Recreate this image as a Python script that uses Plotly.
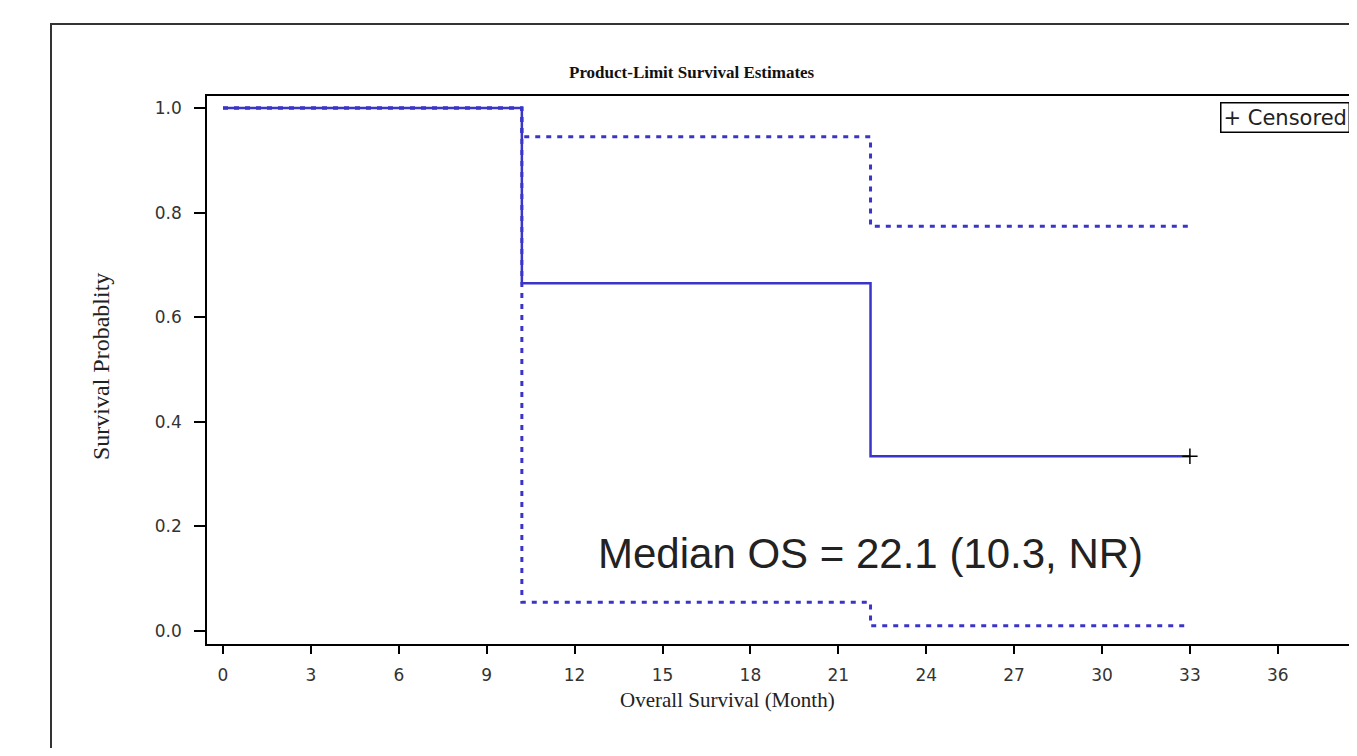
import plotly.graph_objects as go

# Data
times = [0, 10.2, 22.1, 33]
surv = [1.0, 0.665, 0.334, 0.334]
upper_ci = [1.0, 0.945, 0.774, 0.774]
lower_ci = [1.0, 0.055, 0.010, 0.010]
censor_times = [33]
censor_surv = [0.334]
x_ticks = [0, 3, 6, 9, 12, 15, 18, 21, 24, 27, 30, 33, 36, 39]
y_ticks = [0.0, 0.2, 0.4, 0.6, 0.8, 1.0]

BLUE = "#3a35c8"

# page layout helpers (page has 8px body margin)
PL, PR, PT, PB = 207, 1349, 96, 644
PW, PH = PR - PL, PB - PT


def px(xp):
    return (xp - PL) / PW


def py(yp):
    return (PB - yp) / PH


fig = go.Figure()
fig.add_trace(go.Scatter(x=times, y=upper_ci, mode="lines", line_shape="hv",
                         line=dict(color=BLUE, width=3, dash="5px,6px"), showlegend=False))
fig.add_trace(go.Scatter(x=times, y=lower_ci, mode="lines", line_shape="hv",
                         line=dict(color=BLUE, width=3, dash="5px,6px"), showlegend=False))
fig.add_trace(go.Scatter(x=times, y=surv, mode="lines", line_shape="hv",
                         line=dict(color=BLUE, width=2.5), showlegend=False))
fig.add_trace(go.Scatter(x=censor_times, y=censor_surv, mode="markers",
                         marker=dict(symbol="cross-thin", size=11,
                                     line=dict(color="black", width=1.5)),
                         showlegend=False))

axis_font = dict(family="DejaVu Sans, Arial", size=17, color="#333333")
fig.update_xaxes(range=[-0.546, 38.43], tickvals=x_ticks, ticktext=[str(v) for v in x_ticks],
                 showgrid=False, zeroline=False, showline=True, linecolor="black",
                 linewidth=1.5, mirror=True, ticks="outside", ticklen=8,
                 tickcolor="black", tickwidth=1.5, tickfont=axis_font,
                 ticklabelstandoff=7)
fig.update_yaxes(range=[-0.0249, 1.0229], tickvals=y_ticks,
                 ticktext=[f"{v:.1f}" for v in y_ticks],
                 showgrid=False, zeroline=False, showline=True, linecolor="black",
                 linewidth=1.5, mirror=False, ticks="outside", ticklen=11,
                 tickcolor="black", tickwidth=1.5, tickfont=axis_font,
                 ticklabelstandoff=9)

# outer frame
fig.add_shape(type="rect", xref="paper", yref="paper", x0=px(51), x1=1.2,
              y0=-0.4, y1=py(24), line=dict(color="#333333", width=2), layer="below")

# title
fig.add_annotation(xref="paper", yref="paper", x=px(692), y=py(73),
                   text="<b>Product-Limit Survival Estimates</b>", showarrow=False,
                   xanchor="center", yanchor="middle",
                   font=dict(family="Liberation Serif, Times New Roman", size=17, color="#111111"))

# axis titles
fig.add_annotation(xref="paper", yref="paper", x=px(727), y=py(700),
                   text="Overall Survival (Month)", showarrow=False,
                   xanchor="center", yanchor="middle",
                   font=dict(family="Liberation Serif, Times New Roman", size=21, color="#222222"))
fig.add_annotation(xref="paper", yref="paper", x=px(101), y=py(367),
                   text="Survival Probablity", showarrow=False, textangle=-90,
                   xanchor="center", yanchor="middle",
                   font=dict(family="Liberation Serif, Times New Roman", size=24, color="#222222"))

# censored legend box
fig.add_annotation(xref="paper", yref="paper", x=px(1220), y=py(117),
                   text="+ Censored", showarrow=False, xanchor="left", yanchor="middle",
                   font=dict(family="DejaVu Sans, Arial", size=21, color="#222222"),
                   bordercolor="black", borderwidth=1.5, borderpad=2, bgcolor="white")

# median annotation
fig.add_annotation(xref="paper", yref="paper", x=px(596), y=py(553),
                   text="Median OS = 22.1 (10.3, NR)", showarrow=False,
                   xanchor="left", yanchor="middle",
                   font=dict(family="Liberation Sans, Arial", size=42, color="#222222"))

fig.update_layout(width=1341, height=740,
                  margin=dict(l=PL - 8, r=0, t=PT - 8, b=740 - (PB - 8)),
                  paper_bgcolor="white", plot_bgcolor="white")

fig.write_html("out.html")
